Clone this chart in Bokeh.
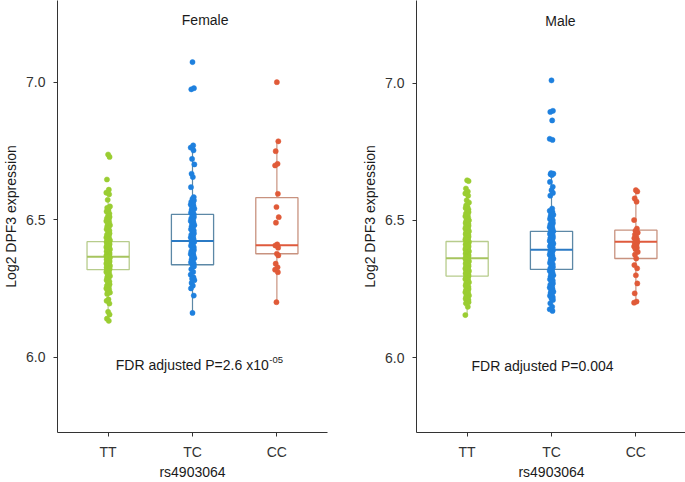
from bokeh.plotting import figure
from bokeh.layouts import row
from bokeh.models import Range1d, FixedTicker, NumeralTickFormatter, CustomJSTickFormatter, Label, ColumnDataSource
from bokeh.embed import file_html
from bokeh.resources import INLINE

# ---------------- data ----------------
genotypes = ["TT", "TC", "CC"]
panel_names = ["Female", "Male"]
p_texts = ["FDR adjusted P=2.6 x10", "FDR adjusted P=0.004"]
p_sups = ["-05", ""]
x_title = "rs4903064"
y_title = "Log2 DPF3 expression"

female_TT = [6.737, 6.728, 6.646, 6.609, 6.598, 6.592, 6.572, 6.548, 6.543, 6.535, 6.530, 6.522,
             6.515, 6.510, 6.505, 6.500, 6.495, 6.490, 6.485, 6.480, 6.475, 6.470, 6.465, 6.460,
             6.455, 6.450, 6.445, 6.440, 6.435, 6.430, 6.428, 6.425, 6.422, 6.420, 6.418, 6.415,
             6.412, 6.410, 6.407, 6.404, 6.400, 6.398, 6.395, 6.392, 6.390, 6.387, 6.384, 6.381,
             6.378, 6.375, 6.373, 6.370, 6.368, 6.366, 6.365, 6.362, 6.360, 6.357, 6.355, 6.352,
             6.350, 6.347, 6.345, 6.342, 6.340, 6.337, 6.335, 6.332, 6.330, 6.328, 6.326, 6.324,
             6.322, 6.320, 6.318, 6.315, 6.310, 6.305, 6.300, 6.295, 6.290, 6.285, 6.280, 6.275,
             6.270, 6.265, 6.260, 6.255, 6.250, 6.245, 6.240, 6.235, 6.230, 6.210, 6.205, 6.195,
             6.165, 6.155, 6.140, 6.132]
female_TC = [7.073, 6.978, 6.974, 6.770, 6.762, 6.752, 6.721, 6.701, 6.667, 6.655, 6.618, 6.582,
             6.576, 6.570, 6.565, 6.560, 6.555, 6.550, 6.545, 6.540, 6.535, 6.530, 6.525, 6.520,
             6.515, 6.510, 6.505, 6.500, 6.495, 6.490, 6.485, 6.480, 6.475, 6.470, 6.465, 6.460,
             6.455, 6.450, 6.445, 6.440, 6.435, 6.430, 6.425, 6.420, 6.415, 6.410, 6.405, 6.400,
             6.395, 6.390, 6.385, 6.380, 6.375, 6.370, 6.365, 6.360, 6.355, 6.350, 6.345, 6.340,
             6.336, 6.330, 6.320, 6.310, 6.300, 6.290, 6.285, 6.280, 6.270, 6.260, 6.250, 6.224,
             6.161]
female_CC = [7.000, 6.785, 6.749, 6.703, 6.697, 6.594, 6.546, 6.509, 6.489, 6.410, 6.406, 6.398,
             6.376, 6.370, 6.340, 6.327, 6.318, 6.309, 6.200]
male_TT = [6.646, 6.643, 6.616, 6.605, 6.598, 6.590, 6.573, 6.565, 6.555, 6.550, 6.545, 6.540,
           6.535, 6.530, 6.525, 6.520, 6.515, 6.510, 6.505, 6.500, 6.497, 6.494, 6.490, 6.487,
           6.484, 6.480, 6.477, 6.474, 6.470, 6.467, 6.464, 6.460, 6.457, 6.454, 6.450, 6.447,
           6.444, 6.440, 6.437, 6.434, 6.430, 6.427, 6.424, 6.421, 6.418, 6.415, 6.412, 6.410,
           6.407, 6.404, 6.401, 6.398, 6.395, 6.392, 6.390, 6.387, 6.384, 6.381, 6.378, 6.375,
           6.372, 6.370, 6.367, 6.364, 6.360, 6.357, 6.354, 6.351, 6.348, 6.345, 6.342, 6.339,
           6.336, 6.333, 6.330, 6.327, 6.324, 6.321, 6.318, 6.315, 6.312, 6.309, 6.306, 6.303,
           6.300, 6.297, 6.294, 6.290, 6.286, 6.282, 6.278, 6.274, 6.270, 6.266, 6.262, 6.258,
           6.254, 6.250, 6.246, 6.242, 6.238, 6.234, 6.230, 6.226, 6.222, 6.218, 6.214, 6.210,
           6.206, 6.202, 6.198, 6.185, 6.155]
male_TC = [7.010, 6.899, 6.895, 6.864, 6.797, 6.793, 6.672, 6.670, 6.668, 6.665, 6.640, 6.622,
           6.610, 6.600, 6.590, 6.543, 6.535, 6.530, 6.525, 6.520, 6.515, 6.510, 6.505, 6.500,
           6.495, 6.490, 6.485, 6.480, 6.475, 6.470, 6.465, 6.460, 6.455, 6.452, 6.450, 6.445,
           6.440, 6.437, 6.435, 6.430, 6.425, 6.422, 6.420, 6.415, 6.410, 6.408, 6.405, 6.400,
           6.396, 6.390, 6.385, 6.380, 6.375, 6.370, 6.365, 6.360, 6.355, 6.350, 6.345, 6.340,
           6.335, 6.330, 6.325, 6.321, 6.316, 6.310, 6.305, 6.300, 6.295, 6.290, 6.285, 6.280,
           6.275, 6.270, 6.265, 6.260, 6.255, 6.250, 6.245, 6.240, 6.235, 6.230, 6.225, 6.220,
           6.215, 6.210, 6.198, 6.185, 6.176, 6.170]
male_CC = [6.610, 6.605, 6.580, 6.568, 6.501, 6.470, 6.462, 6.455, 6.448, 6.440, 6.435, 6.430,
           6.425, 6.420, 6.418, 6.410, 6.405, 6.400, 6.395, 6.385, 6.375, 6.361, 6.337, 6.325,
           6.300, 6.270, 6.234, 6.204, 6.200]

# box statistics (lower whisker, Q1, median, Q3, upper whisker) per genotype
female_lo = [6.165, 6.163, 6.200]
female_q1 = [6.318, 6.336, 6.376]
female_med = [6.365, 6.422, 6.407]
female_q3 = [6.420, 6.519, 6.580]
female_hi = [6.572, 6.770, 6.785]
male_lo = [6.155, 6.170, 6.200]
male_q1 = [6.297, 6.321, 6.361]
male_med = [6.362, 6.393, 6.422]
male_q3 = [6.423, 6.460, 6.464]
male_hi = [6.605, 6.672, 6.610]

# ---------------- style ----------------
FONT = "Liberation Sans"
FS = "14px"
point_colors = ["#9ACD32", "#1E80DE", "#E05A38"]
box_colors = ["#B7CC8C", "#5C88A6", "#C8927F"]
median_colors = ["#A6C45E", "#2B7AC4", "#DF5A3C"]
JIT = [0.0, 0.017, -0.014, 0.008, -0.021, 0.012, -0.005, 0.022, -0.011, 0.004, -0.018, 0.015]
AX = "#333333"


def make_panel(name, groups, lo, q1, med, q3, hi, ptxt, psup, yr, border_left, border_right,
               title_x, txt_x, sup_x):
    p = figure(frame_width=270, frame_height=432, x_range=Range1d(0.4, 3.6), y_range=Range1d(*yr),
               output_backend="svg", toolbar_location=None,
               min_border_left=border_left, min_border_right=border_right,
               min_border_top=0, min_border_bottom=50)
    p.outline_line_color = None
    p.xgrid.visible = False
    p.ygrid.visible = False
    p.background_fill_color = "white"

    xs = [i + 1 for i in range(len(genotypes))]
    bw = 0.25
    src = ColumnDataSource(dict(x=xs, left=[x - bw for x in xs], right=[x + bw for x in xs],
                                lo=lo, q1=q1, med=med, q3=q3, hi=hi,
                                bc=box_colors, mc=median_colors))
    p.segment(x0="x", y0="q3", x1="x", y1="hi", line_color="bc", line_width=1.2, source=src)
    p.segment(x0="x", y0="lo", x1="x", y1="q1", line_color="bc", line_width=1.2, source=src)
    p.quad(left="left", right="right", bottom="q1", top="q3", fill_color="white",
           line_color="bc", line_width=1.3, source=src)
    p.segment(x0="left", y0="med", x1="right", y1="med", line_color="mc", line_width=2, source=src)

    for i, vals in enumerate(groups):
        px = [i + 1 + JIT[k % len(JIT)] for k in range(len(vals))]
        p.scatter(px, vals, size=5.2, fill_color=point_colors[i], line_color=point_colors[i],
                  line_width=0.5)

    p.add_layout(Label(x=title_x, y=7.226, text=name, text_align="center", text_baseline="middle",
                       text_font=FONT, text_font_size=FS, text_color="#1a1a1a"))
    p.add_layout(Label(x=txt_x, y=5.970, text=ptxt, text_align="left", text_baseline="middle",
                       text_font=FONT, text_font_size=FS, text_color="#1a1a1a"))
    if psup:
        p.add_layout(Label(x=sup_x, y=5.988, text=psup, text_align="left", text_baseline="middle",
                           text_font=FONT, text_font_size="9.5px", text_color="#1a1a1a"))

    p.xaxis.ticker = FixedTicker(ticks=xs)
    p.xaxis.formatter = CustomJSTickFormatter(args=dict(labels=genotypes),
                                              code="return labels[Math.round(tick) - 1];")
    p.yaxis.ticker = FixedTicker(ticks=[6.0, 6.5, 7.0])
    p.yaxis.formatter = NumeralTickFormatter(format="0.0")
    for ax in (p.xaxis, p.yaxis):
        ax.axis_line_color = AX
        ax.axis_line_width = 1
        ax.major_tick_line_color = AX
        ax.major_tick_out = 4
        ax.major_tick_in = 0
        ax.minor_tick_line_color = None
        ax.major_label_text_font = FONT
        ax.major_label_text_font_size = FS
        ax.major_label_text_color = "#333333"
        ax.axis_label_text_font = FONT
        ax.axis_label_text_font_size = FS
        ax.axis_label_text_font_style = "normal"
        ax.axis_label_text_color = "#1a1a1a"
    p.xaxis.axis_label = x_title
    p.yaxis.axis_label = y_title
    p.xaxis.major_label_standoff = 7
    p.xaxis.axis_label_standoff = 1
    p.yaxis.major_label_standoff = 8
    p.yaxis.axis_label_standoff = 4
    return p


p1 = make_panel(panel_names[0], [female_TT, female_TC, female_CC], female_lo, female_q1, female_med,
                female_q3, female_hi, p_texts[0], p_sups[0], (5.726, 7.297), 54, 16,
                2.15, 1.091, 2.91)
p2 = make_panel(panel_names[1], [male_TT, male_TC, male_CC], male_lo, male_q1, male_med,
                male_q3, male_hi, p_texts[1], p_sups[1], (5.727, 7.301), 73, 2,
                2.106, 1.052, 0)

layout = row(p1, p2)
open("out.html", "w").write(file_html(layout, INLINE))
